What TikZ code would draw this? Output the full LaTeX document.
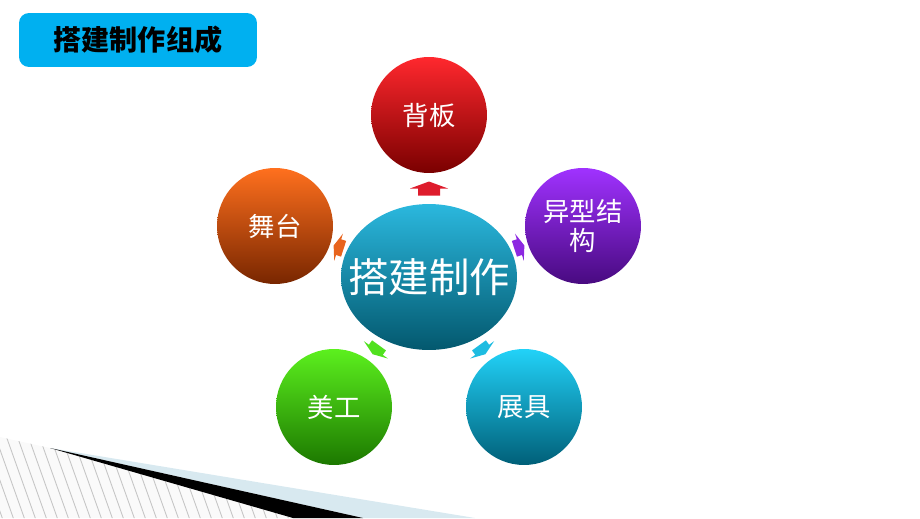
\documentclass[tikz,border=0pt]{standalone}
\usepackage{fontspec}
\newfontfamily\cjk{Noto Sans CJK SC}
\usetikzlibrary{shapes.geometric}

\definecolor{titleblue}{RGB}{0,176,240}
\definecolor{hubTop}{RGB}{43,184,222}
\definecolor{hubBot}{RGB}{3,88,110}
\definecolor{redTop}{RGB}{255,40,46}
\definecolor{redBot}{RGB}{122,0,0}
\definecolor{redArr}{RGB}{222,28,44}
\definecolor{purTop}{RGB}{160,50,255}
\definecolor{purBot}{RGB}{72,10,128}
\definecolor{purArr}{RGB}{140,40,225}
\definecolor{cyaTop}{RGB}{34,210,248}
\definecolor{cyaBot}{RGB}{0,95,120}
\definecolor{cyaArr}{RGB}{30,188,225}
\definecolor{grnTop}{RGB}{92,240,30}
\definecolor{grnBot}{RGB}{28,120,0}
\definecolor{grnArr}{RGB}{80,225,30}
\definecolor{orgTop}{RGB}{255,112,30}
\definecolor{orgBot}{RGB}{120,38,0}
\definecolor{orgArr}{RGB}{232,100,30}
\definecolor{paleblue}{RGB}{216,233,240}

\tikzset{
  part/.style={circle, minimum size=2.32cm, inner sep=0pt, text=white,
    align=center, font=\cjk\fontsize{15}{17}\selectfont},
  hub/.style={ellipse, minimum width=3.52cm, minimum height=2.92cm, inner sep=0pt,
    text=white, top color=hubTop, bottom color=hubBot,
    font=\cjk\fontsize{23}{26}\selectfont},
  hatchline/.style={gray!45, line width=0.5pt},
  blockarr/.pic={
    \fill (-0.14cm,-0.22cm) -- (0cm,-0.22cm) -- (0cm,-0.38cm) -- (0.14cm,0cm)
      -- (0cm,0.38cm) -- (0cm,0.22cm) -- (-0.14cm,0.22cm) -- cycle;
  }
}

\begin{document}
\begin{tikzpicture}[x=0.02cm, y=-0.02cm]
  \useasboundingbox (0,0) rectangle (920,518);

  % bottom left swoosh
  \begin{scope}
    \clip (0,437) -- (50,448) -- (293,518) -- (0,518) -- cycle;
    \fill[gray!4] (0,430) rectangle (300,518);
    \foreach \x in {-40,-29,...,300}
      \draw[hatchline] (\x,430) -- ++(32,90);
  \end{scope}
  \fill[paleblue] (50,448) -- (475,518) -- (363,518) -- cycle;
  \fill[black] (50,448) -- (363,518) -- (293,518) -- cycle;

  % title
  \node[fill=titleblue, rounded corners=0.2cm, minimum width=4.76cm, minimum height=1.08cm,
    font=\cjk\bfseries\fontsize{16}{18}\selectfont] (title) at (138,40) {搭建制作组成};

  % hub and parts
  \node[hub] (hub) at (429,277) {\makebox[0pt]{搭建制作}};
  \node[part, top color=redTop, bottom color=redBot] (back) at (429,115) {背板};
  \node[part, top color=purTop, bottom color=purBot] (odd) at (583,226) {异型结\\构};
  \node[part, top color=cyaTop, bottom color=cyaBot] (show) at (524,407) {展具};
  \node[part, top color=grnTop, bottom color=grnBot] (art) at (334,407) {美工};
  \node[part, top color=orgTop, bottom color=orgBot] (stage) at (275,226) {舞台};

  % arrows
  \path (hub.90) -- (back.270) coordinate[midway] (a1);
  \path (hub.18) -- (odd.198) coordinate[midway] (a2);
  \path (hub.-54) -- (show.126) coordinate[midway] (a3);
  \path (hub.-126) -- (art.54) coordinate[midway] (a4);
  \path (hub.162) -- (stage.-18) coordinate[midway] (a5);
  \pic[color=redArr, rotate=90] at (a1) {blockarr};
  \pic[color=purArr, rotate=18, scale=0.75] at (a2) {blockarr};
  \pic[color=cyaArr, rotate=-54, scale=0.78] at (a3) {blockarr};
  \pic[color=grnArr, rotate=-126, scale=0.78] at (a4) {blockarr};
  \pic[color=orgArr, rotate=162, scale=0.75] at (a5) {blockarr};
\end{tikzpicture}
\end{document}
